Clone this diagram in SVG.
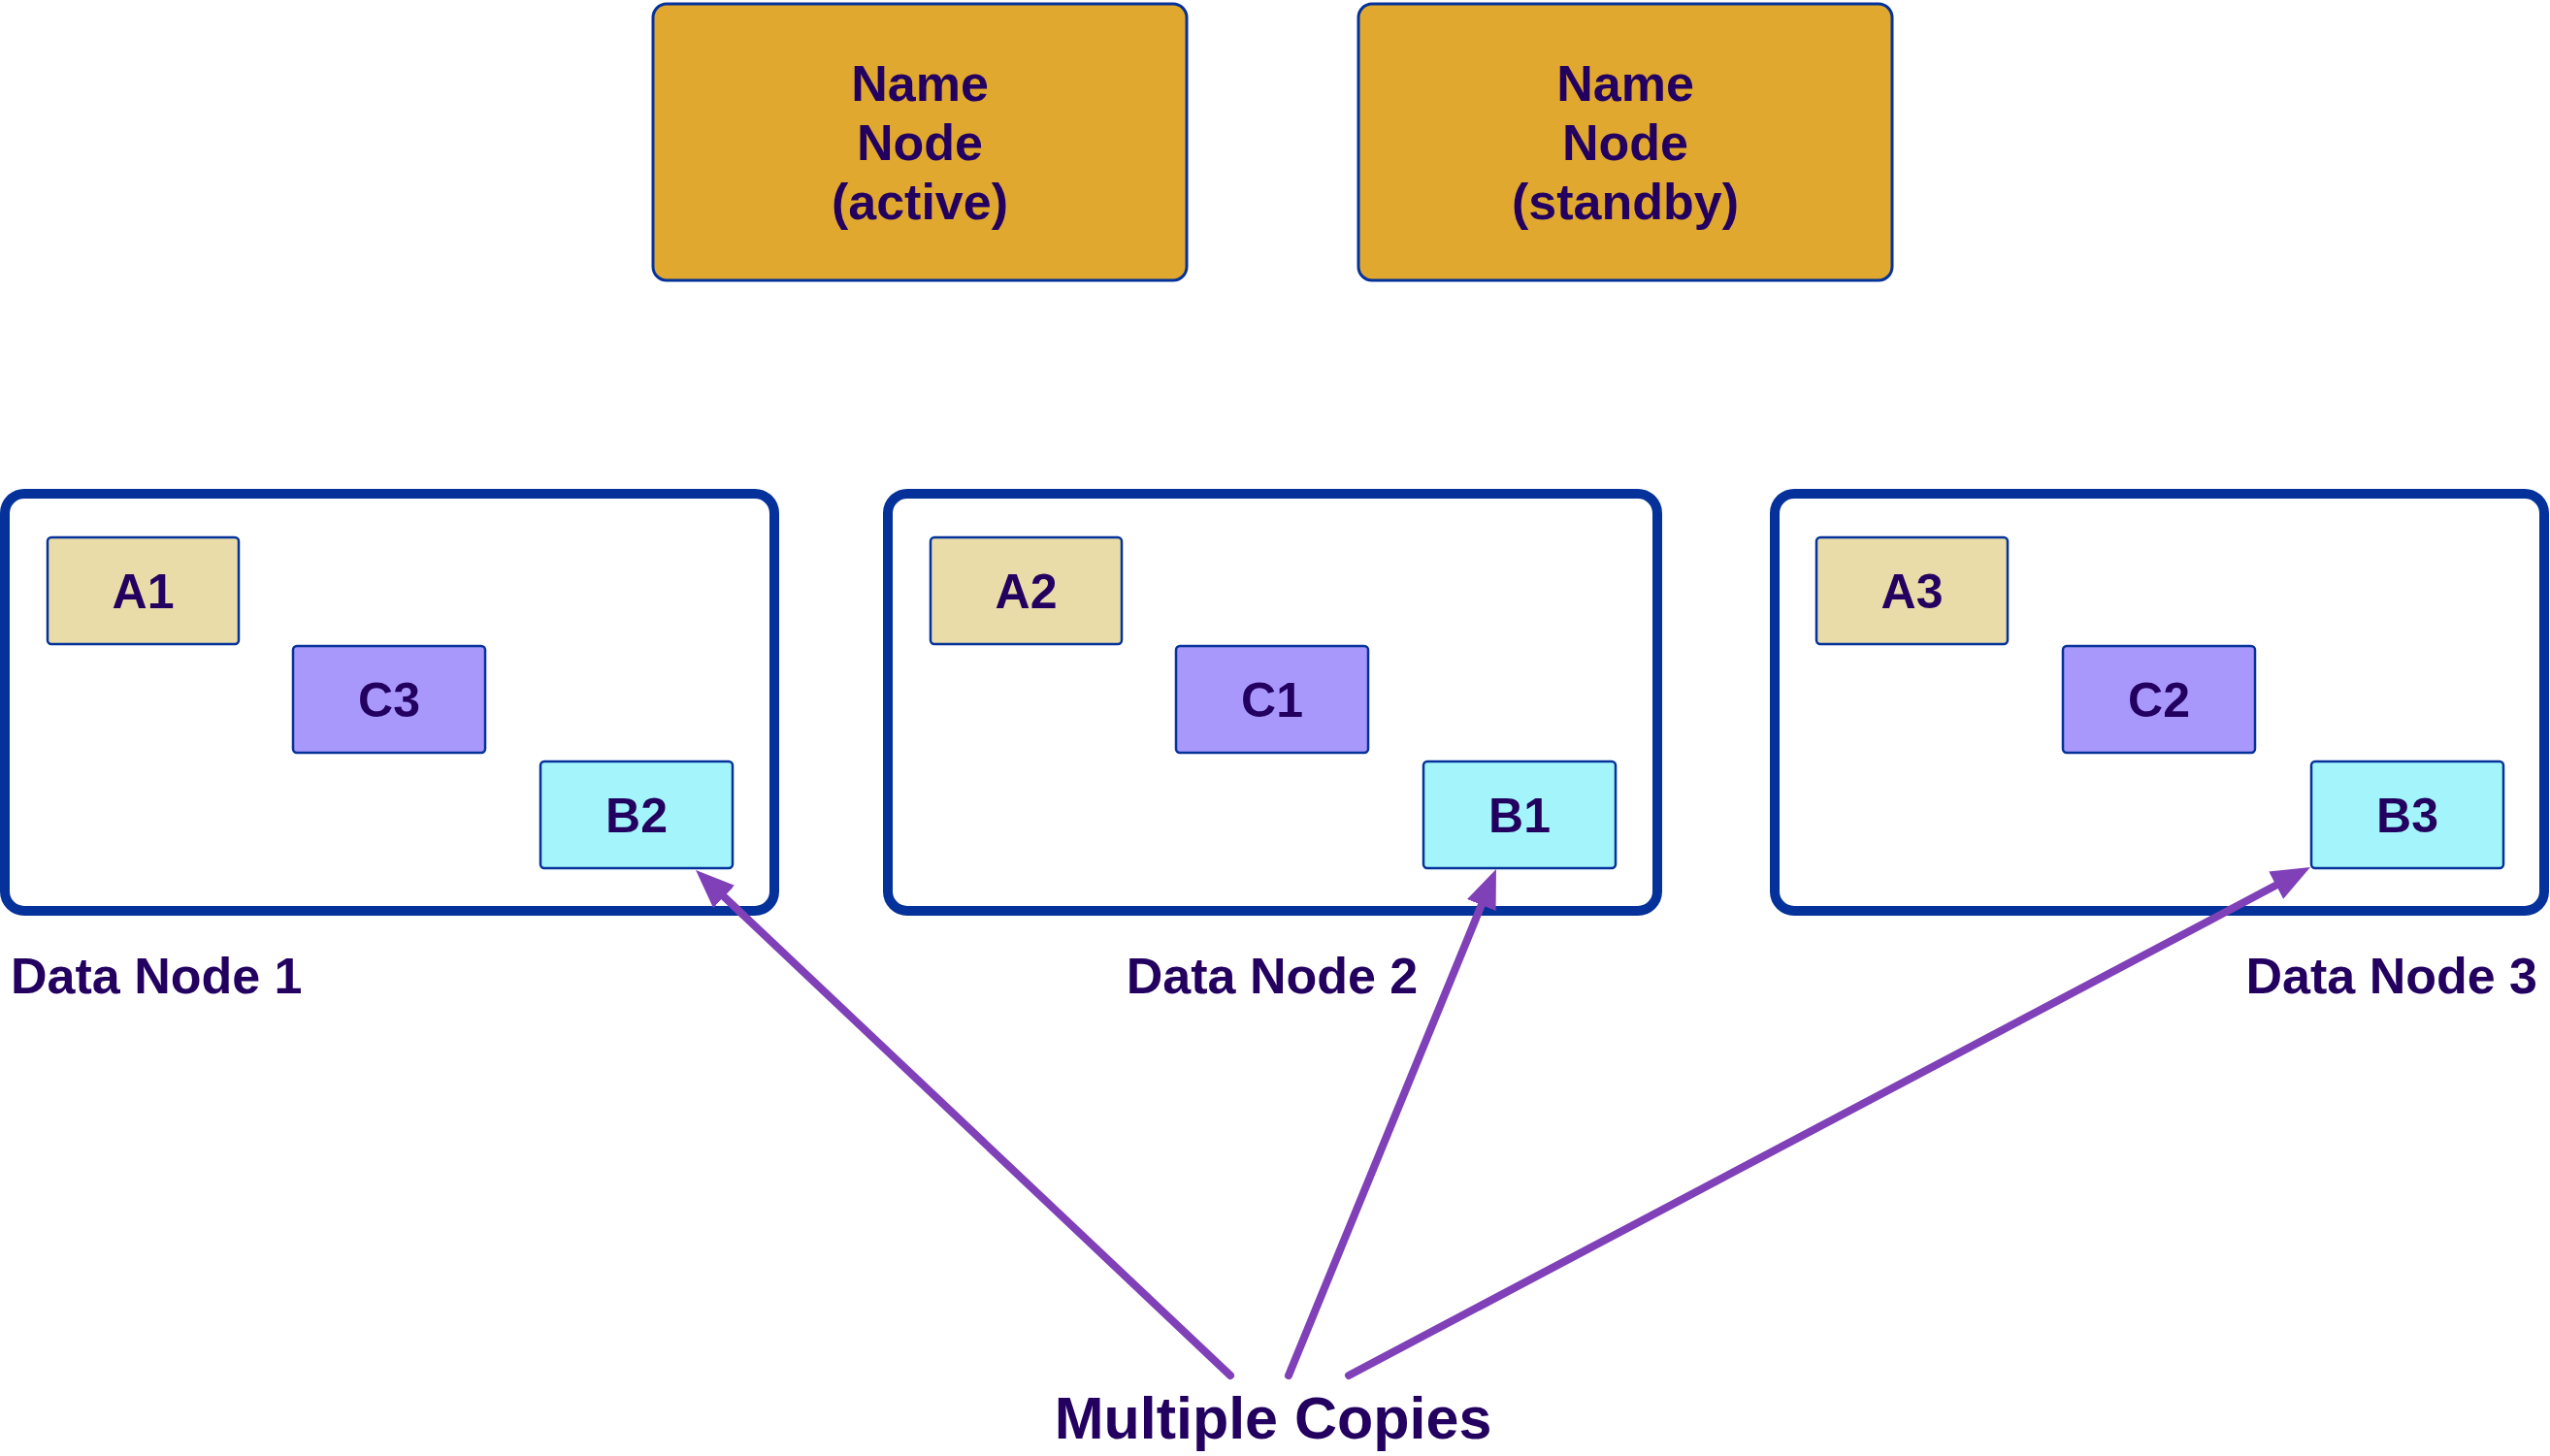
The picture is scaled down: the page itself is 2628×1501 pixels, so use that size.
<svg xmlns="http://www.w3.org/2000/svg" width="2628" height="1501" viewBox="0 0 2628 1501">
<style>
text{font-family:"Liberation Sans",Arial,sans-serif;font-weight:bold;fill:#230060;text-anchor:middle}
.nn{fill:#E1A82F;stroke:#04329A;stroke-width:3}
.dn{fill:#FFFFFF;stroke:#04329A;stroke-width:10}
.blk{stroke:#04329A;stroke-width:2.5}
.a{fill:#E9DCA8}.c{fill:#A898FB}.b{fill:#A3F5FB}
.t50{font-size:50px}
.t52{font-size:52px}
.t60{font-size:61px}
.arr{stroke:#8040B8;stroke-width:8;stroke-linecap:round;fill:none}
</style>
<defs>
<marker id="ah" markerUnits="userSpaceOnUse" viewBox="0 0 40 32" markerWidth="40" markerHeight="32" refX="4" refY="16" orient="auto">
<path d="M0,0 L40,16 L0,32 Z" fill="#8040B8"/>
</marker>
</defs>
<g id="namenode-active">
<rect class="nn" x="673" y="4" width="550" height="285" rx="14"/>
<text class="t52" x="948" y="104">Name</text>
<text class="t52" x="948" y="165">Node</text>
<text class="t52" x="948" y="226">(active)</text>
</g>
<g id="namenode-standby">
<rect class="nn" x="1400" y="4" width="550" height="285" rx="14"/>
<text class="t52" x="1675" y="104">Name</text>
<text class="t52" x="1675" y="165">Node</text>
<text class="t52" x="1675" y="226">(standby)</text>
</g>
<g id="datanode-1">
<rect class="dn" x="5" y="509" width="793" height="430" rx="20"/>
<rect class="blk a" x="49" y="554" width="197" height="110" rx="4"/>
<text class="t50" x="147.5" y="627">A1</text>
<rect class="blk c" x="302" y="666" width="198" height="110" rx="4"/>
<text class="t50" x="401" y="739">C3</text>
<rect class="blk b" x="557" y="785" width="198" height="110" rx="4"/>
<text class="t50" x="656" y="858">B2</text>
<text class="t52" x="11" y="1024" style="text-anchor:start">Data Node 1</text>
</g>
<g id="datanode-2">
<rect class="dn" x="915" y="509" width="793" height="430" rx="20"/>
<rect class="blk a" x="959" y="554" width="197" height="110" rx="4"/>
<text class="t50" x="1057.5" y="627">A2</text>
<rect class="blk c" x="1212" y="666" width="198" height="110" rx="4"/>
<text class="t50" x="1311" y="739">C1</text>
<rect class="blk b" x="1467" y="785" width="198" height="110" rx="4"/>
<text class="t50" x="1566" y="858">B1</text>
<text class="t52" x="1311" y="1024">Data Node 2</text>
</g>
<g id="datanode-3">
<rect class="dn" x="1829" y="509" width="793" height="430" rx="20"/>
<rect class="blk a" x="1872" y="554" width="197" height="110" rx="4"/>
<text class="t50" x="1970.5" y="627">A3</text>
<rect class="blk c" x="2126" y="666" width="198" height="110" rx="4"/>
<text class="t50" x="2225" y="739">C2</text>
<rect class="blk b" x="2382" y="785" width="198" height="110" rx="4"/>
<text class="t50" x="2481" y="858">B3</text>
<text class="t52" x="2615" y="1024" style="text-anchor:end">Data Node 3</text>
</g>
<g id="label-copies">
<text class="t60" x="1312" y="1483">Multiple Copies</text>
</g>
<g id="connectors">
<line class="arr" x1="1268" y1="1418" x2="743.2" y2="921.7" marker-end="url(#ah)"/>
<line class="arr" x1="1328" y1="1418" x2="1528.3" y2="929.3" marker-end="url(#ah)"/>
<line class="arr" x1="1390" y1="1418" x2="2349.2" y2="910.8" marker-end="url(#ah)"/>
</g>
</svg>
